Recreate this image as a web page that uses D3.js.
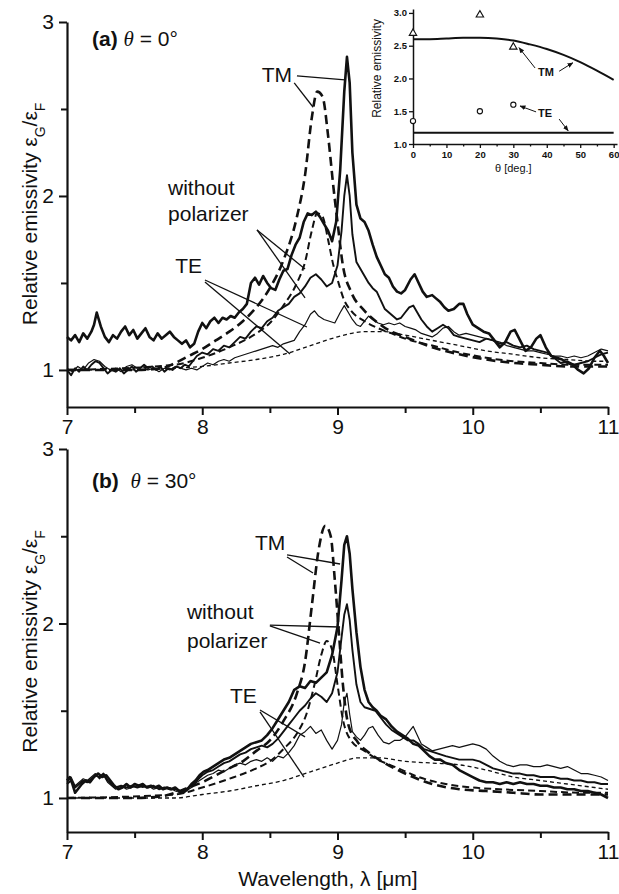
<!DOCTYPE html>
<html>
<head>
<meta charset="utf-8">
<script src="https://cdn.jsdelivr.net/npm/d3@7/dist/d3.min.js"></script>
<style>
  body { margin: 0; background: #fff; }
  text { font-family: "Liberation Sans", Arial, sans-serif; fill: #111; }
</style>
</head>
<body>
<div id="chart"></div>
<script>
const width = 619
const height = 894

// ---- datos: panel (a) theta = 0 ----
const tmMeasA = [[7.00,1.19],[7.03,1.17],[7.06,1.20],[7.09,1.16],[7.12,1.21],[7.15,1.18],[7.18,1.22],[7.20,1.26],[7.22,1.33],[7.25,1.25],[7.28,1.19],[7.31,1.16],[7.34,1.20],[7.37,1.18],[7.40,1.22],[7.43,1.25],[7.46,1.20],[7.49,1.23],[7.52,1.18],[7.55,1.21],[7.58,1.24],[7.61,1.19],[7.64,1.17],[7.67,1.21],[7.70,1.18],[7.73,1.20],[7.76,1.22],[7.79,1.19],[7.82,1.17],[7.85,1.15],[7.88,1.17],[7.91,1.13],[7.94,1.15],[7.97,1.22],[8.00,1.27],[8.03,1.24],[8.06,1.28],[8.09,1.30],[8.12,1.27],[8.15,1.30],[8.18,1.29],[8.21,1.31],[8.24,1.30],[8.27,1.33],[8.30,1.35],[8.33,1.38],[8.36,1.50],[8.39,1.53],[8.42,1.49],[8.45,1.54],[8.48,1.50],[8.51,1.47],[8.54,1.46],[8.57,1.52],[8.60,1.57],[8.63,1.58],[8.66,1.66],[8.69,1.72],[8.72,1.76],[8.75,1.85],[8.78,1.90],[8.81,1.89],[8.84,1.91],[8.87,1.88],[8.90,1.84],[8.93,1.80],[8.96,1.74],[8.99,1.85],[9.02,2.15],[9.05,2.60],[9.07,2.80],[9.09,2.65],[9.11,2.25],[9.14,1.95],[9.17,1.87],[9.20,1.85],[9.23,1.80],[9.26,1.72],[9.29,1.65],[9.32,1.60],[9.35,1.55],[9.38,1.53],[9.41,1.48],[9.44,1.45],[9.47,1.44],[9.50,1.46],[9.54,1.52],[9.57,1.55],[9.60,1.50],[9.63,1.45],[9.66,1.42],[9.70,1.43],[9.73,1.41],[9.76,1.39],[9.79,1.36],[9.82,1.34],[9.86,1.35],[9.90,1.38],[9.93,1.38],[9.96,1.32],[10.00,1.26],[10.04,1.24],[10.08,1.22],[10.12,1.21],[10.16,1.17],[10.20,1.13],[10.24,1.16],[10.28,1.22],[10.31,1.23],[10.35,1.17],[10.39,1.11],[10.43,1.13],[10.47,1.18],[10.50,1.20],[10.54,1.13],[10.58,1.08],[10.62,1.07],[10.66,1.06],[10.70,1.04],[10.74,1.03],[10.78,1.00],[10.82,0.98],[10.86,1.01],[10.90,1.07],[10.94,1.11],[10.97,1.08],[11.00,1.04]]
const unMeasA = [[7.00,1.00],[7.03,0.97],[7.06,1.01],[7.09,0.99],[7.12,1.02],[7.15,1.00],[7.18,1.03],[7.21,1.05],[7.24,1.04],[7.27,1.01],[7.30,0.98],[7.33,1.00],[7.36,0.99],[7.39,1.01],[7.42,0.98],[7.45,1.00],[7.48,1.02],[7.51,0.99],[7.54,1.01],[7.57,1.03],[7.60,1.01],[7.63,1.02],[7.66,1.00],[7.69,1.02],[7.72,0.99],[7.75,1.01],[7.78,1.00],[7.81,1.02],[7.84,1.01],[7.87,1.03],[7.90,1.02],[7.93,1.05],[7.96,1.08],[8.00,1.10],[8.04,1.09],[8.08,1.12],[8.12,1.11],[8.16,1.14],[8.20,1.13],[8.24,1.16],[8.28,1.19],[8.32,1.18],[8.36,1.22],[8.40,1.25],[8.44,1.24],[8.48,1.28],[8.52,1.30],[8.56,1.34],[8.60,1.36],[8.64,1.38],[8.68,1.42],[8.72,1.44],[8.76,1.48],[8.80,1.53],[8.84,1.55],[8.88,1.52],[8.92,1.48],[8.96,1.50],[9.00,1.60],[9.03,1.80],[9.05,2.00],[9.07,2.12],[9.09,2.00],[9.11,1.78],[9.14,1.62],[9.17,1.58],[9.20,1.54],[9.23,1.50],[9.26,1.47],[9.29,1.45],[9.32,1.40],[9.35,1.35],[9.38,1.33],[9.41,1.31],[9.44,1.29],[9.47,1.30],[9.50,1.33],[9.53,1.36],[9.56,1.37],[9.59,1.33],[9.62,1.29],[9.66,1.25],[9.70,1.22],[9.74,1.24],[9.78,1.26],[9.82,1.24],[9.86,1.20],[9.90,1.19],[9.95,1.18],[10.00,1.17],[10.05,1.16],[10.10,1.18],[10.15,1.17],[10.20,1.15],[10.25,1.16],[10.30,1.14],[10.35,1.13],[10.40,1.14],[10.45,1.12],[10.50,1.11],[10.55,1.10],[10.60,1.07],[10.65,1.04],[10.70,1.05],[10.75,1.03],[10.80,1.04],[10.85,1.05],[10.90,1.07],[10.95,1.09],[11.00,1.10]]
const teMeasA = [[7.00,1.01],[7.04,0.99],[7.08,1.02],[7.12,1.00],[7.16,1.04],[7.20,1.06],[7.24,1.05],[7.28,1.02],[7.32,1.00],[7.36,1.01],[7.40,0.99],[7.44,1.02],[7.48,1.03],[7.52,1.01],[7.56,1.02],[7.60,1.00],[7.64,1.01],[7.68,0.99],[7.72,1.01],[7.76,1.00],[7.80,1.02],[7.84,1.01],[7.88,1.00],[7.92,1.01],[7.96,1.00],[8.00,1.02],[8.04,1.04],[8.08,1.03],[8.12,1.05],[8.16,1.06],[8.20,1.05],[8.24,1.07],[8.28,1.08],[8.32,1.09],[8.36,1.10],[8.40,1.11],[8.44,1.12],[8.48,1.13],[8.52,1.14],[8.56,1.13],[8.60,1.15],[8.64,1.16],[8.68,1.17],[8.72,1.22],[8.76,1.26],[8.80,1.32],[8.83,1.34],[8.86,1.31],[8.90,1.29],[8.94,1.28],[8.98,1.27],[9.02,1.33],[9.05,1.37],[9.08,1.33],[9.11,1.29],[9.14,1.26],[9.17,1.25],[9.20,1.28],[9.23,1.31],[9.26,1.29],[9.30,1.27],[9.34,1.26],[9.38,1.27],[9.42,1.26],[9.46,1.27],[9.50,1.25],[9.54,1.24],[9.58,1.23],[9.62,1.21],[9.66,1.20],[9.70,1.19],[9.74,1.21],[9.78,1.24],[9.82,1.25],[9.86,1.22],[9.90,1.20],[9.95,1.21],[10.00,1.20],[10.05,1.19],[10.10,1.18],[10.15,1.17],[10.20,1.16],[10.25,1.14],[10.30,1.13],[10.35,1.12],[10.40,1.11],[10.45,1.11],[10.50,1.10],[10.55,1.09],[10.60,1.08],[10.65,1.08],[10.70,1.07],[10.75,1.08],[10.80,1.07],[10.85,1.08],[10.90,1.10],[10.95,1.12],[11.00,1.11]]
const tmCalcA = [[7.0,1.0],[7.5,1.0],[7.7,1.01],[7.8,1.04],[7.9,1.08],[8.0,1.12],[8.1,1.17],[8.2,1.22],[8.3,1.28],[8.4,1.36],[8.5,1.47],[8.6,1.63],[8.7,1.88],[8.76,2.12],[8.81,2.45],[8.85,2.60],[8.89,2.57],[8.93,2.35],[8.97,2.05],[9.0,1.85],[9.04,1.60],[9.1,1.45],[9.2,1.34],[9.3,1.27],[9.4,1.22],[9.5,1.19],[9.7,1.13],[9.9,1.09],[10.1,1.06],[10.3,1.04],[10.5,1.03],[10.7,1.02],[10.9,1.02],[11.0,1.02]]
const unCalcA = [[7.0,1.0],[7.8,1.03],[8.0,1.07],[8.2,1.13],[8.4,1.21],[8.5,1.27],[8.6,1.37],[8.7,1.50],[8.76,1.62],[8.81,1.80],[8.85,1.90],[8.89,1.88],[8.93,1.75],[8.97,1.60],[9.0,1.52],[9.05,1.40],[9.1,1.34],[9.2,1.28],[9.3,1.24],[9.4,1.21],[9.5,1.18],[9.7,1.14],[9.9,1.10],[10.1,1.07],[10.3,1.05],[10.5,1.04],[10.7,1.03],[10.9,1.03],[11.0,1.03]]
const teCalcA = [[7.0,1.0],[7.5,1.0],[7.8,1.01],[8.0,1.02],[8.2,1.04],[8.4,1.06],[8.6,1.09],[8.8,1.14],[9.0,1.19],[9.2,1.22],[9.35,1.22],[9.5,1.20],[9.7,1.17],[9.9,1.14],[10.1,1.11],[10.3,1.09],[10.5,1.07],[10.7,1.06],[10.9,1.05],[11.0,1.05]]

// ---- datos: panel (b) theta = 30 ----
const tmMeasB = [[7.00,1.10],[7.02,1.12],[7.04,1.08],[7.06,1.03],[7.08,1.05],[7.11,1.08],[7.14,1.10],[7.17,1.09],[7.20,1.12],[7.23,1.14],[7.26,1.12],[7.29,1.13],[7.32,1.10],[7.35,1.07],[7.38,1.05],[7.41,1.06],[7.44,1.08],[7.47,1.06],[7.50,1.08],[7.53,1.07],[7.56,1.08],[7.59,1.06],[7.62,1.07],[7.65,1.06],[7.68,1.07],[7.71,1.05],[7.74,1.06],[7.77,1.05],[7.80,1.06],[7.83,1.04],[7.86,1.03],[7.89,1.05],[7.92,1.08],[7.95,1.10],[7.98,1.13],[8.01,1.15],[8.04,1.16],[8.08,1.18],[8.12,1.20],[8.16,1.22],[8.20,1.23],[8.24,1.25],[8.28,1.27],[8.32,1.29],[8.36,1.31],[8.40,1.32],[8.44,1.33],[8.48,1.36],[8.52,1.40],[8.56,1.45],[8.60,1.50],[8.64,1.55],[8.68,1.62],[8.72,1.64],[8.76,1.63],[8.80,1.67],[8.84,1.66],[8.88,1.69],[8.92,1.72],[8.96,1.82],[9.00,1.98],[9.03,2.25],[9.05,2.45],[9.07,2.50],[9.09,2.40],[9.11,2.20],[9.14,1.95],[9.17,1.75],[9.20,1.62],[9.23,1.55],[9.26,1.52],[9.29,1.50],[9.32,1.47],[9.36,1.45],[9.40,1.41],[9.44,1.38],[9.48,1.36],[9.52,1.34],[9.56,1.31],[9.60,1.30],[9.64,1.27],[9.68,1.24],[9.72,1.22],[9.76,1.22],[9.80,1.20],[9.85,1.19],[9.90,1.16],[9.95,1.14],[10.00,1.12],[10.05,1.10],[10.10,1.09],[10.15,1.09],[10.20,1.08],[10.25,1.09],[10.30,1.08],[10.35,1.09],[10.40,1.08],[10.45,1.08],[10.50,1.07],[10.55,1.07],[10.60,1.06],[10.65,1.06],[10.70,1.05],[10.75,1.05],[10.80,1.04],[10.85,1.04],[10.90,1.03],[10.95,1.02],[11.00,1.00]]
const unMeasB = [[7.00,1.08],[7.03,1.10],[7.06,1.06],[7.09,1.08],[7.12,1.10],[7.15,1.09],[7.18,1.11],[7.21,1.13],[7.24,1.12],[7.27,1.14],[7.30,1.10],[7.33,1.08],[7.36,1.06],[7.40,1.07],[7.44,1.06],[7.48,1.07],[7.52,1.06],[7.56,1.07],[7.60,1.06],[7.64,1.07],[7.68,1.05],[7.72,1.06],[7.76,1.05],[7.80,1.05],[7.84,1.04],[7.88,1.05],[7.92,1.07],[7.96,1.10],[8.00,1.13],[8.04,1.15],[8.08,1.16],[8.12,1.18],[8.16,1.20],[8.20,1.21],[8.24,1.23],[8.28,1.25],[8.32,1.26],[8.36,1.28],[8.40,1.29],[8.44,1.30],[8.48,1.29],[8.52,1.31],[8.56,1.34],[8.60,1.38],[8.64,1.42],[8.68,1.46],[8.72,1.50],[8.76,1.53],[8.80,1.57],[8.84,1.60],[8.88,1.58],[8.92,1.55],[8.96,1.60],[9.00,1.72],[9.03,1.92],[9.05,2.05],[9.07,2.11],[9.09,2.02],[9.11,1.85],[9.14,1.65],[9.17,1.55],[9.20,1.52],[9.24,1.51],[9.28,1.50],[9.32,1.46],[9.36,1.42],[9.40,1.39],[9.44,1.37],[9.48,1.35],[9.52,1.33],[9.56,1.33],[9.60,1.31],[9.64,1.28],[9.68,1.27],[9.72,1.26],[9.76,1.25],[9.80,1.24],[9.85,1.23],[9.90,1.22],[9.95,1.22],[10.00,1.22],[10.05,1.21],[10.10,1.19],[10.15,1.17],[10.20,1.16],[10.25,1.15],[10.30,1.14],[10.35,1.14],[10.40,1.13],[10.45,1.13],[10.50,1.12],[10.55,1.12],[10.60,1.12],[10.65,1.11],[10.70,1.11],[10.75,1.10],[10.80,1.10],[10.85,1.09],[10.90,1.09],[10.95,1.08],[11.00,1.08]]
const teMeasB = [[7.00,1.09],[7.03,1.12],[7.06,1.07],[7.09,1.09],[7.12,1.11],[7.15,1.10],[7.18,1.12],[7.21,1.14],[7.24,1.11],[7.27,1.13],[7.30,1.09],[7.33,1.07],[7.36,1.05],[7.40,1.07],[7.44,1.05],[7.48,1.06],[7.52,1.07],[7.56,1.06],[7.60,1.07],[7.64,1.05],[7.68,1.06],[7.72,1.05],[7.76,1.06],[7.80,1.04],[7.84,1.03],[7.88,1.04],[7.92,1.06],[7.96,1.09],[8.00,1.11],[8.04,1.13],[8.08,1.14],[8.12,1.16],[8.16,1.15],[8.20,1.17],[8.24,1.19],[8.28,1.20],[8.32,1.19],[8.36,1.21],[8.40,1.22],[8.44,1.21],[8.48,1.23],[8.52,1.21],[8.56,1.24],[8.60,1.23],[8.64,1.26],[8.68,1.30],[8.72,1.36],[8.76,1.38],[8.80,1.41],[8.84,1.37],[8.88,1.39],[8.92,1.33],[8.96,1.28],[9.00,1.33],[9.03,1.42],[9.05,1.55],[9.07,1.60],[9.09,1.48],[9.11,1.38],[9.14,1.35],[9.17,1.33],[9.20,1.36],[9.23,1.40],[9.26,1.41],[9.30,1.36],[9.34,1.32],[9.38,1.31],[9.42,1.33],[9.46,1.33],[9.50,1.35],[9.53,1.38],[9.56,1.41],[9.59,1.36],[9.62,1.31],[9.66,1.29],[9.70,1.27],[9.75,1.28],[9.80,1.29],[9.85,1.30],[9.90,1.29],[9.95,1.30],[10.00,1.31],[10.05,1.30],[10.10,1.28],[10.15,1.24],[10.20,1.21],[10.25,1.19],[10.30,1.18],[10.35,1.19],[10.40,1.19],[10.45,1.18],[10.50,1.18],[10.55,1.19],[10.60,1.18],[10.65,1.17],[10.70,1.18],[10.75,1.16],[10.80,1.14],[10.85,1.14],[10.90,1.13],[10.95,1.12],[11.00,1.10]]
const tmCalcB = [[7.0,1.0],[7.5,1.0],[7.7,1.01],[7.8,1.03],[7.9,1.06],[8.0,1.09],[8.1,1.13],[8.2,1.17],[8.3,1.21],[8.4,1.27],[8.5,1.33],[8.6,1.44],[8.7,1.60],[8.76,1.78],[8.81,2.10],[8.86,2.42],[8.91,2.56],[8.95,2.50],[8.98,2.25],[9.01,1.95],[9.04,1.65],[9.08,1.42],[9.15,1.32],[9.25,1.25],[9.35,1.20],[9.5,1.14],[9.7,1.08],[9.9,1.05],[10.1,1.04],[10.3,1.03],[10.5,1.02],[10.7,1.02],[10.9,1.02],[11.0,1.02]]
const unCalcB = [[7.0,1.0],[7.8,1.02],[8.0,1.06],[8.2,1.11],[8.4,1.17],[8.5,1.21],[8.6,1.28],[8.7,1.37],[8.77,1.48],[8.83,1.65],[8.88,1.82],[8.92,1.90],[8.96,1.85],[9.0,1.65],[9.04,1.45],[9.1,1.33],[9.2,1.27],[9.3,1.22],[9.45,1.17],[9.6,1.12],[9.8,1.08],[10.0,1.06],[10.2,1.05],[10.5,1.04],[10.8,1.03],[11.0,1.03]]
const teCalcB = [[7.0,1.0],[7.8,1.0],[8.0,1.02],[8.2,1.04],[8.4,1.07],[8.6,1.10],[8.8,1.15],[9.0,1.20],[9.15,1.23],[9.3,1.23],[9.5,1.21],[9.7,1.20],[9.9,1.19],[10.1,1.16],[10.3,1.12],[10.5,1.10],[10.7,1.08],[10.9,1.06],[11.0,1.05]]

// ---- datos: inset ----
const insetAngles = [0, 20, 30]
const insetTM = [2.69, 2.97, 2.48]
const insetTE = [1.35, 1.50, 1.60]
const fitAngles = [0, 5, 10, 15, 20, 25, 30, 35, 40, 45, 50, 55, 60]
const fitTM = [2.60, 2.60, 2.61, 2.62, 2.62, 2.61, 2.58, 2.52, 2.45, 2.36, 2.25, 2.12, 1.98]
const fitTE = [1.17, 1.17, 1.17, 1.17, 1.17, 1.17, 1.17, 1.17, 1.17, 1.17, 1.17, 1.17, 1.17]

// ticks
const xTicks = [7, 8, 9, 10, 11]
const xMinor = [7.5, 8.5, 9.5, 10.5]
const yTicks = [1, 2, 3]
const yMinor = [1.5, 2.5]

// estilos de linea
const styles = {
  tmMeas: { w: 2.6, dash: null },
  unMeas: { w: 1.9, dash: null },
  teMeas: { w: 1.2, dash: null },
  tmCalc: { w: 2.6, dash: "9,5" },
  unCalc: { w: 2.0, dash: "7,4" },
  teCalc: { w: 1.3, dash: "4,3" },
}

const svg = d3.select("#chart").append("svg")
  .attr("width", width)
  .attr("height", height)

svg.append("defs").append("marker")
  .attr("id", "arrow")
  .attr("viewBox", "0 0 10 10")
  .attr("refX", 9).attr("refY", 5)
  .attr("markerWidth", 6).attr("markerHeight", 6)
  .attr("orient", "auto")
  .append("path").attr("d", "M0,1L10,5L0,9z").attr("fill", "#111")

// escalas
const x = d3.scaleLinear().domain([7, 11]).range([67, 608])
const yA = d3.scaleLinear().domain([0.787, 3]).range([407, 22])
const yB = d3.scaleLinear().domain([0.805, 3]).range([832, 449])

function drawPanel(y, series, notes, label, angle, titleY) {
  const g = svg.append("g")
  const bottom = y.range()[0]

  // ejes
  g.append("g").attr("transform", `translate(0, ${bottom})`)
    .call(d3.axisBottom(x).tickValues(xTicks).tickSize(8).tickSizeOuter(0).tickPadding(4).tickFormat(d3.format("d")))
  g.append("g").attr("transform", `translate(0, ${bottom})`)
    .call(d3.axisBottom(x).tickValues(xMinor).tickSize(6).tickFormat(""))
    .select(".domain").remove()
  g.append("g").attr("transform", `translate(${x(7)}, 0)`)
    .call(d3.axisLeft(y).tickValues(yTicks).tickSize(8).tickSizeOuter(0).tickPadding(5).tickFormat(d3.format("d")))
  g.append("g").attr("transform", `translate(${x(7)}, 0)`)
    .call(d3.axisLeft(y).tickValues(yMinor).tickSize(6).tickFormat(""))
    .select(".domain").remove()
  g.selectAll(".domain").attr("stroke-width", 2.2).attr("stroke", "#111")
  g.selectAll(".tick line").attr("stroke-width", 2).attr("stroke", "#111")
  g.selectAll(".tick text").attr("font-size", 21).attr("fill", "#111")
    .style("font-family", '"Liberation Sans", Arial, sans-serif')

  // curvas
  series.forEach(s => {
    const line = d3.line()
      .x(d => x(d[0])).y(d => y(d[1]))
      .curve(s.smooth ? d3.curveMonotoneX : d3.curveLinear)
    g.append("path")
      .datum(s.data)
      .attr("d", line)
      .attr("fill", "none")
      .attr("stroke", "#111")
      .attr("stroke-width", styles[s.style].w)
      .attr("stroke-dasharray", styles[s.style].dash)
      .attr("stroke-linejoin", "round")
  })

  // anotaciones
  notes.forEach(n => {
    g.append("text").attr("x", x(n.at[0])).attr("y", y(n.at[1]))
      .attr("font-size", 21).text(n.text)
    n.lines.forEach(l => {
      g.append("line")
        .attr("x1", x(l[0])).attr("y1", y(l[1]))
        .attr("x2", x(l[2])).attr("y2", y(l[3]))
        .attr("stroke", "#111").attr("stroke-width", 1.3)
    })
  })

  // titulo del panel
  const t = g.append("text").attr("x", 92).attr("y", titleY).attr("font-size", 21)
  t.append("tspan").attr("font-weight", "bold").text(label)
  t.append("tspan").text(label === "(b)" ? "\u00a0\u00a0" : "\u00a0")
  t.append("tspan").attr("font-style", "italic").style("font-family", '"Liberation Serif", "DejaVu Serif", serif').text("\u03b8")
  t.append("tspan").text(" = " + angle + "\u00b0")

  // titulo eje y
  const yt = g.append("text")
    .attr("transform", `translate(37, ${(y(1) + y(3)) / 2 + 18}) rotate(-90)`)
    .attr("text-anchor", "middle").attr("font-size", 21)
  yt.append("tspan").text("Relative emissivity \u03b5")
  yt.append("tspan").attr("font-size", 14).attr("baseline-shift", "sub").text("G")
  yt.append("tspan").text("/\u03b5")
  yt.append("tspan").attr("font-size", 14).attr("baseline-shift", "sub").text("F")
}

drawPanel(yA, [
  { data: teCalcA, style: "teCalc", smooth: true },
  { data: unCalcA, style: "unCalc", smooth: true },
  { data: tmCalcA, style: "tmCalc", smooth: true },
  { data: teMeasA, style: "teMeas" },
  { data: unMeasA, style: "unMeas" },
  { data: tmMeasA, style: "tmMeas" },
], [
  { text: "TM", at: [8.44, 2.655], lines: [[8.70, 2.69, 9.055, 2.667], [8.68, 2.65, 8.82, 2.51]] },
  { text: "without", at: [7.747, 2.006], lines: [] },
  { text: "polarizer", at: [7.747, 1.856], lines: [[8.405, 1.805, 8.76, 1.58], [8.405, 1.805, 8.76, 1.414]] },
  { text: "TE", at: [7.80, 1.557], lines: [[8.02, 1.517, 8.774, 1.247], [8.02, 1.506, 8.649, 1.092]] },
], "(a)", "0", 46)

drawPanel(yB, [
  { data: teCalcB, style: "teCalc", smooth: true },
  { data: unCalcB, style: "unCalc", smooth: true },
  { data: tmCalcB, style: "tmCalc", smooth: true },
  { data: teMeasB, style: "teMeas" },
  { data: unMeasB, style: "unMeas" },
  { data: tmMeasB, style: "tmMeas" },
], [
  { text: "TM", at: [8.39, 2.421], lines: [[8.627, 2.393, 9.019, 2.341], [8.627, 2.381, 8.819, 2.289]] },
  { text: "without", at: [7.887, 2.026], lines: [] },
  { text: "polarizer", at: [7.887, 1.860], lines: [[8.50, 1.991, 9.019, 1.980], [8.50, 1.986, 8.871, 1.888]] },
  { text: "TE", at: [8.205, 1.544], lines: [[8.427, 1.504, 8.76, 1.350], [8.427, 1.493, 8.752, 1.120]] },
], "(b)", "30", 488)

// titulo eje x
svg.append("text").attr("x", 328).attr("y", 886).attr("text-anchor", "middle")
  .attr("font-size", 21).text("Wavelength, \u03bb [\u03bcm]")

// ---- inset ----
const xi = d3.scaleLinear().domain([0, 61]).range([413, 617])
const yi = d3.scaleLinear().domain([1, 3.06]).range([144, 9])
const inset = svg.append("g")

inset.append("g").attr("transform", `translate(0, ${yi(1)})`)
  .call(d3.axisBottom(xi).tickValues([0, 10, 20, 30, 40, 50, 60]).tickSize(4).tickSizeOuter(0).tickPadding(3))
inset.append("g").attr("transform", `translate(0, ${yi(1)})`)
  .call(d3.axisBottom(xi).tickValues([5, 15, 25, 35, 45, 55]).tickSize(2.5).tickFormat(""))
  .select(".domain").remove()
inset.append("g").attr("transform", `translate(${xi(0)}, 0)`)
  .call(d3.axisLeft(yi).tickValues([1, 1.5, 2, 2.5, 3]).tickSize(4).tickSizeOuter(0).tickPadding(2).tickFormat(d3.format(".1f")))
inset.selectAll(".domain").attr("stroke-width", 1.5).attr("stroke", "#111")
inset.selectAll(".tick line").attr("stroke-width", 1.3).attr("stroke", "#111")
inset.selectAll(".tick text").attr("font-size", 9.5).attr("font-weight", "bold").attr("fill", "#111")
  .style("font-family", '"Liberation Sans", Arial, sans-serif')

const fitLine = d3.line().x(d => xi(d[0])).y(d => yi(d[1])).curve(d3.curveMonotoneX)
inset.append("path").datum(fitAngles.map((a, i) => [a, fitTM[i]]))
  .attr("d", fitLine).attr("fill", "none").attr("stroke", "#111").attr("stroke-width", 2)
inset.append("path").datum(fitAngles.map((a, i) => [a, fitTE[i]]))
  .attr("d", fitLine).attr("fill", "none").attr("stroke", "#111").attr("stroke-width", 2)

inset.selectAll(".tri").data(insetAngles.map((a, i) => [a, insetTM[i]])).enter()
  .append("path").attr("class", "tri")
  .attr("d", d3.symbol(d3.symbolTriangle).size(24))
  .attr("transform", d => `translate(${xi(d[0])}, ${yi(d[1])})`)
  .attr("fill", "#fff").attr("stroke", "#111").attr("stroke-width", 1.1)
inset.selectAll(".circ").data(insetAngles.map((a, i) => [a, insetTE[i]])).enter()
  .append("circle").attr("class", "circ")
  .attr("cx", d => xi(d[0])).attr("cy", d => yi(d[1])).attr("r", 2.6)
  .attr("fill", "#fff").attr("stroke", "#111").attr("stroke-width", 1.1)

const insetNotes = [
  { text: "TM", at: [37.4, 2.04], arrows: [[36.5, 2.16, 31.7, 2.47], [43.7, 2.11, 47.8, 2.24]] },
  { text: "TE", at: [37.4, 1.41], arrows: [[36.8, 1.49, 32.0, 1.58], [43.7, 1.38, 46.4, 1.20]] },
]
insetNotes.forEach(n => {
  inset.append("text").attr("x", xi(n.at[0])).attr("y", yi(n.at[1]))
    .attr("font-size", 11).attr("font-weight", "bold").text(n.text)
  n.arrows.forEach(a => {
    inset.append("line")
      .attr("x1", xi(a[0])).attr("y1", yi(a[1])).attr("x2", xi(a[2])).attr("y2", yi(a[3]))
      .attr("stroke", "#111").attr("stroke-width", 1).attr("marker-end", "url(#arrow)")
  })
})

inset.append("text")
  .attr("transform", `translate(381, ${(yi(1) + yi(3)) / 2 - 10}) rotate(-90)`)
  .attr("text-anchor", "middle").attr("font-size", 12).text("Relative emissivity")
inset.append("text").attr("x", xi(30)).attr("y", 172).attr("text-anchor", "middle")
  .attr("font-size", 11).text("\u03b8 [deg.]")
</script>
</body>
</html>
